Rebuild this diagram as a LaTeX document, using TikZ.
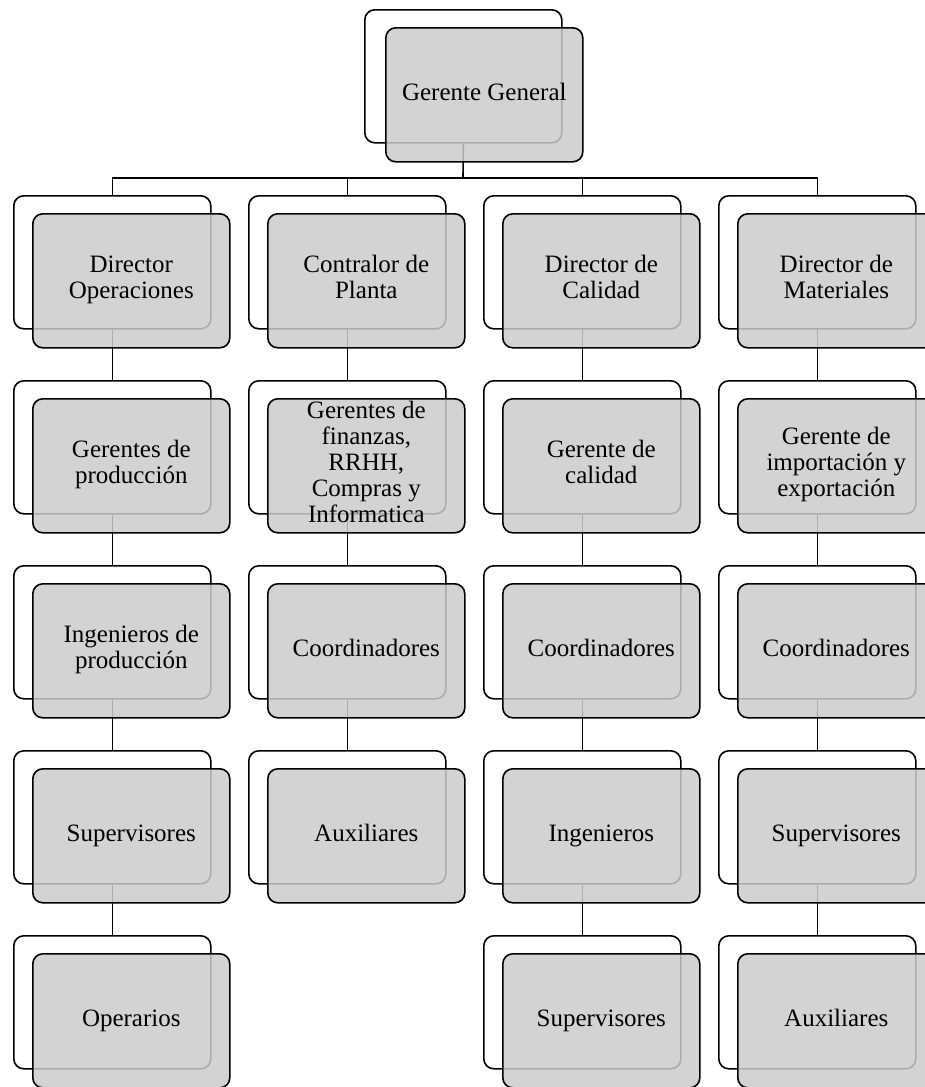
\documentclass[tikz,border=0pt]{standalone}
\usepackage{fontspec}
\setmainfont{Liberation Serif}
\begin{document}
\begin{tikzpicture}[x=1pt,y=-1pt,
  backbox/.style={draw=black,line width=1.6pt,rounded corners=10pt,minimum width=197pt,minimum height=133pt,anchor=north west,inner sep=0pt},
  frontbox/.style={draw=black,line width=1.6pt,rounded corners=10pt,fill={rgb,255:red,203;green,203;blue,203},fill opacity=0.85,text opacity=1,minimum width=197pt,minimum height=134pt,anchor=north west,inner sep=2pt,align=center,font=\fontsize{25}{26}\selectfont,execute at begin node={\strut},execute at end node={\strut}},
  link/.style={line width=1.6pt}]
\useasboundingbox (0,0) rectangle (924,1087);
% back boxes
\node[backbox] (btop) at (364,9) {};
\foreach \c/\x in {1/13,2/248,3/483,4/718}{
  \foreach \r/\y in {1/195,2/380,3/565,4/750,5/935}{
    \ifnum\c=2 \ifnum\r=5 \else \node[backbox] (b\r\c) at (\x,\y) {}; \fi
    \else \node[backbox] (b\r\c) at (\x,\y) {}; \fi
  }
}
% connectors
\coordinate (bar) at (463,178);
\draw[link] (btop.south) -- (bar);
\draw[link] (b11.north) -- (b11.north |- bar) -- (b14.north |- bar) -- (b14.north);
\draw[link] (b12.north) -- (b12.north |- bar);
\draw[link] (b13.north) -- (b13.north |- bar);
\foreach \c in {1,3,4}{
  \draw[link] (b1\c.south) -- (b2\c.north);
  \draw[link] (b2\c.south) -- (b3\c.north);
  \draw[link] (b3\c.south) -- (b4\c.north);
  \draw[link] (b4\c.south) -- (b5\c.north);
}
\draw[link] (b12.south) -- (b22.north);
\draw[link] (b22.south) -- (b32.north);
\draw[link] (b32.south) -- (b42.north);
% front boxes
\node[frontbox] (ftop) at ([shift={(21,18)}]btop.north west) {Gerente General};
\node[frontbox] (f11) at ([shift={(19,18)}]b11.north west) {Director\\Operaciones};
\node[frontbox] (f21) at ([shift={(19,18)}]b21.north west) {Gerentes de\\producción};
\node[frontbox] (f31) at ([shift={(19,18)}]b31.north west) {Ingenieros de\\producción};
\node[frontbox] (f41) at ([shift={(19,18)}]b41.north west) {Supervisores};
\node[frontbox] (f51) at ([shift={(19,18)}]b51.north west) {Operarios};
\node[frontbox] (f12) at ([shift={(19,18)}]b12.north west) {Contralor de\\Planta};
\node[frontbox] (f22) at ([shift={(19,18)}]b22.north west) {Gerentes de\\finanzas,\\RRHH,\\Compras y\\Informatica};
\node[frontbox] (f32) at ([shift={(19,18)}]b32.north west) {Coordinadores};
\node[frontbox] (f42) at ([shift={(19,18)}]b42.north west) {Auxiliares};
\node[frontbox] (f13) at ([shift={(19,18)}]b13.north west) {Director de\\Calidad};
\node[frontbox] (f23) at ([shift={(19,18)}]b23.north west) {Gerente de\\calidad};
\node[frontbox] (f33) at ([shift={(19,18)}]b33.north west) {Coordinadores};
\node[frontbox] (f43) at ([shift={(19,18)}]b43.north west) {Ingenieros};
\node[frontbox] (f53) at ([shift={(19,18)}]b53.north west) {Supervisores};
\node[frontbox] (f14) at ([shift={(19,18)}]b14.north west) {Director de\\Materiales};
\node[frontbox] (f24) at ([shift={(19,18)}]b24.north west) {Gerente de\\importación y\\exportación};
\node[frontbox] (f34) at ([shift={(19,18)}]b34.north west) {Coordinadores};
\node[frontbox] (f44) at ([shift={(19,18)}]b44.north west) {Supervisores};
\node[frontbox] (f54) at ([shift={(19,18)}]b54.north west) {Auxiliares};
\end{tikzpicture}
\end{document}
